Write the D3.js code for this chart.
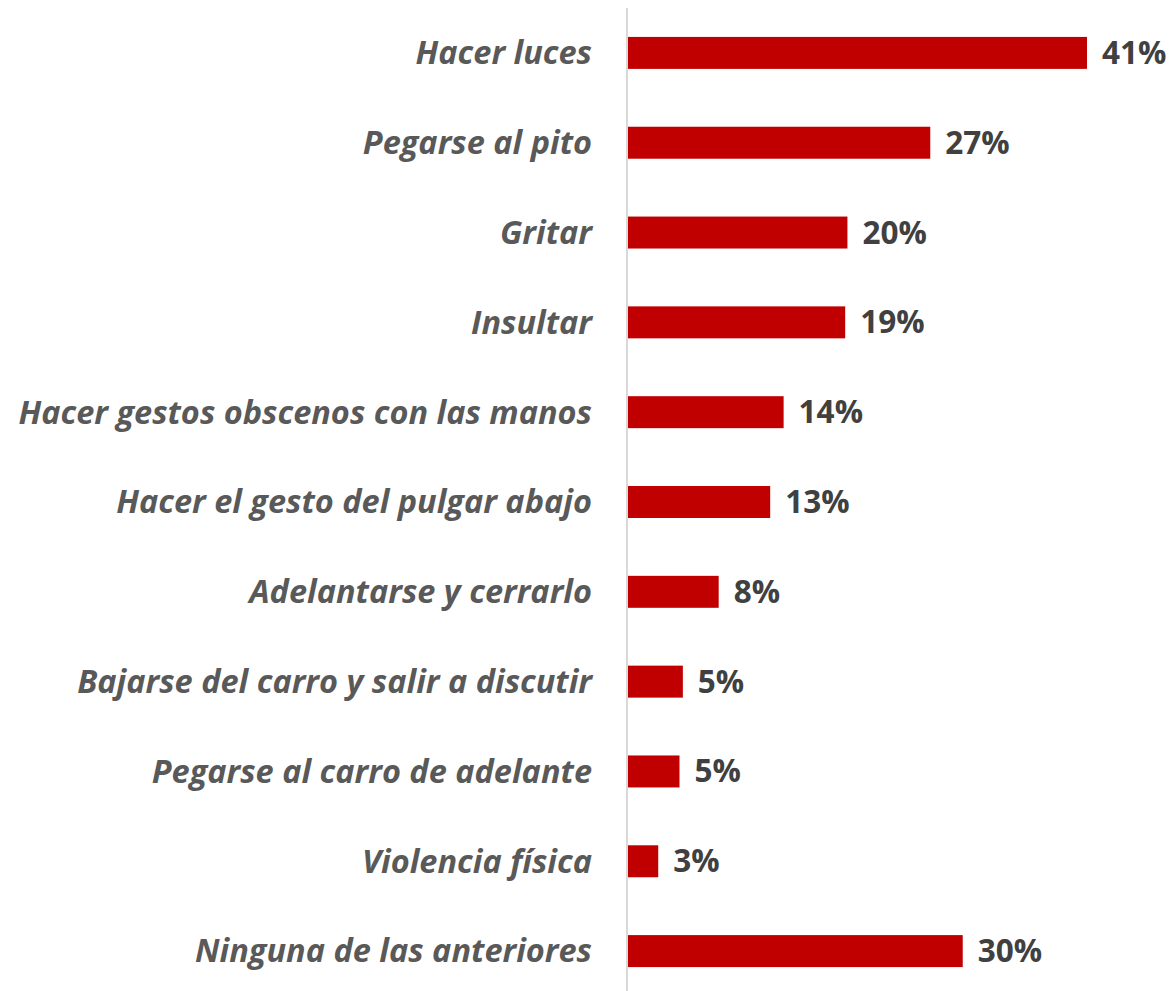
<!DOCTYPE html>
<html>
<head>
<meta charset="utf-8">
<script src="https://cdn.jsdelivr.net/npm/d3@7"></script>
<style>
  html, body { margin: 0; padding: 0; background: #fff; }
  svg { display: block; }
  .cat { font-family: "Open Sans", sans-serif; font-weight: 700; font-style: italic; fill: #595959; }
  .val { font-family: "Open Sans", sans-serif; font-weight: 700; fill: #404040; }
</style>
</head>
<body>
<div id="chart"></div>
<script>
// categorías y valores (%)
const categories = [
  "Hacer luces",
  "Pegarse al pito",
  "Gritar",
  "Insultar",
  "Hacer gestos obscenos con las manos",
  "Hacer el gesto del pulgar abajo",
  "Adelantarse y cerrarlo",
  "Bajarse del carro y salir a discutir",
  "Pegarse al carro de adelante",
  "Violencia física",
  "Ninguna de las anteriores"
];
const values = [41.0, 27.0, 19.6, 19.4, 13.9, 12.7, 8.1, 4.9, 4.6, 2.7, 29.9];
const labels = ["41%", "27%", "20%", "19%", "14%", "13%", "8%", "5%", "5%", "3%", "30%"];

const width = 1176, height = 991;
const x0 = 628;

const data = categories.map((c, i) => ({ cat: c, value: values[i], label: labels[i] }));

const svg = d3.select("#chart").append("svg")
  .attr("width", width)
  .attr("height", height);

const x = d3.scaleLinear()
  .domain([0, 41])
  .range([x0, x0 + 459]);

const y = d3.scaleBand()
  .domain(categories)
  .range([8, 996])
  .paddingInner(0.644)
  .paddingOuter(0.322);

// eje vertical
svg.append("line")
  .attr("x1", x0 - 1).attr("x2", x0 - 1)
  .attr("y1", 8).attr("y2", height)
  .attr("stroke", "#d9d9d9")
  .attr("stroke-width", 2);

// barras
svg.selectAll("rect.bar")
  .data(data)
  .join("rect")
  .attr("class", "bar")
  .attr("x", x(0))
  .attr("y", d => y(d.cat))
  .attr("width", d => x(d.value) - x(0))
  .attr("height", y.bandwidth())
  .attr("fill", "#c00000");

// etiquetas de categoría
svg.selectAll("text.cat")
  .data(data)
  .join("text")
  .attr("class", "cat")
  .attr("x", 592)
  .attr("y", d => y(d.cat) + y.bandwidth() / 2)
  .attr("dy", "0.35em")
  .attr("text-anchor", "end")
  .style("font-size", "32.5px")
  .text(d => d.cat);

// etiquetas de valor
svg.selectAll("text.val")
  .data(data)
  .join("text")
  .attr("class", "val")
  .attr("x", d => x(d.value) + 15)
  .attr("y", d => y(d.cat) + y.bandwidth() / 2)
  .attr("dy", "0.35em")
  .style("font-size", "31.5px")
  .text(d => d.label);
</script>
</body>
</html>
